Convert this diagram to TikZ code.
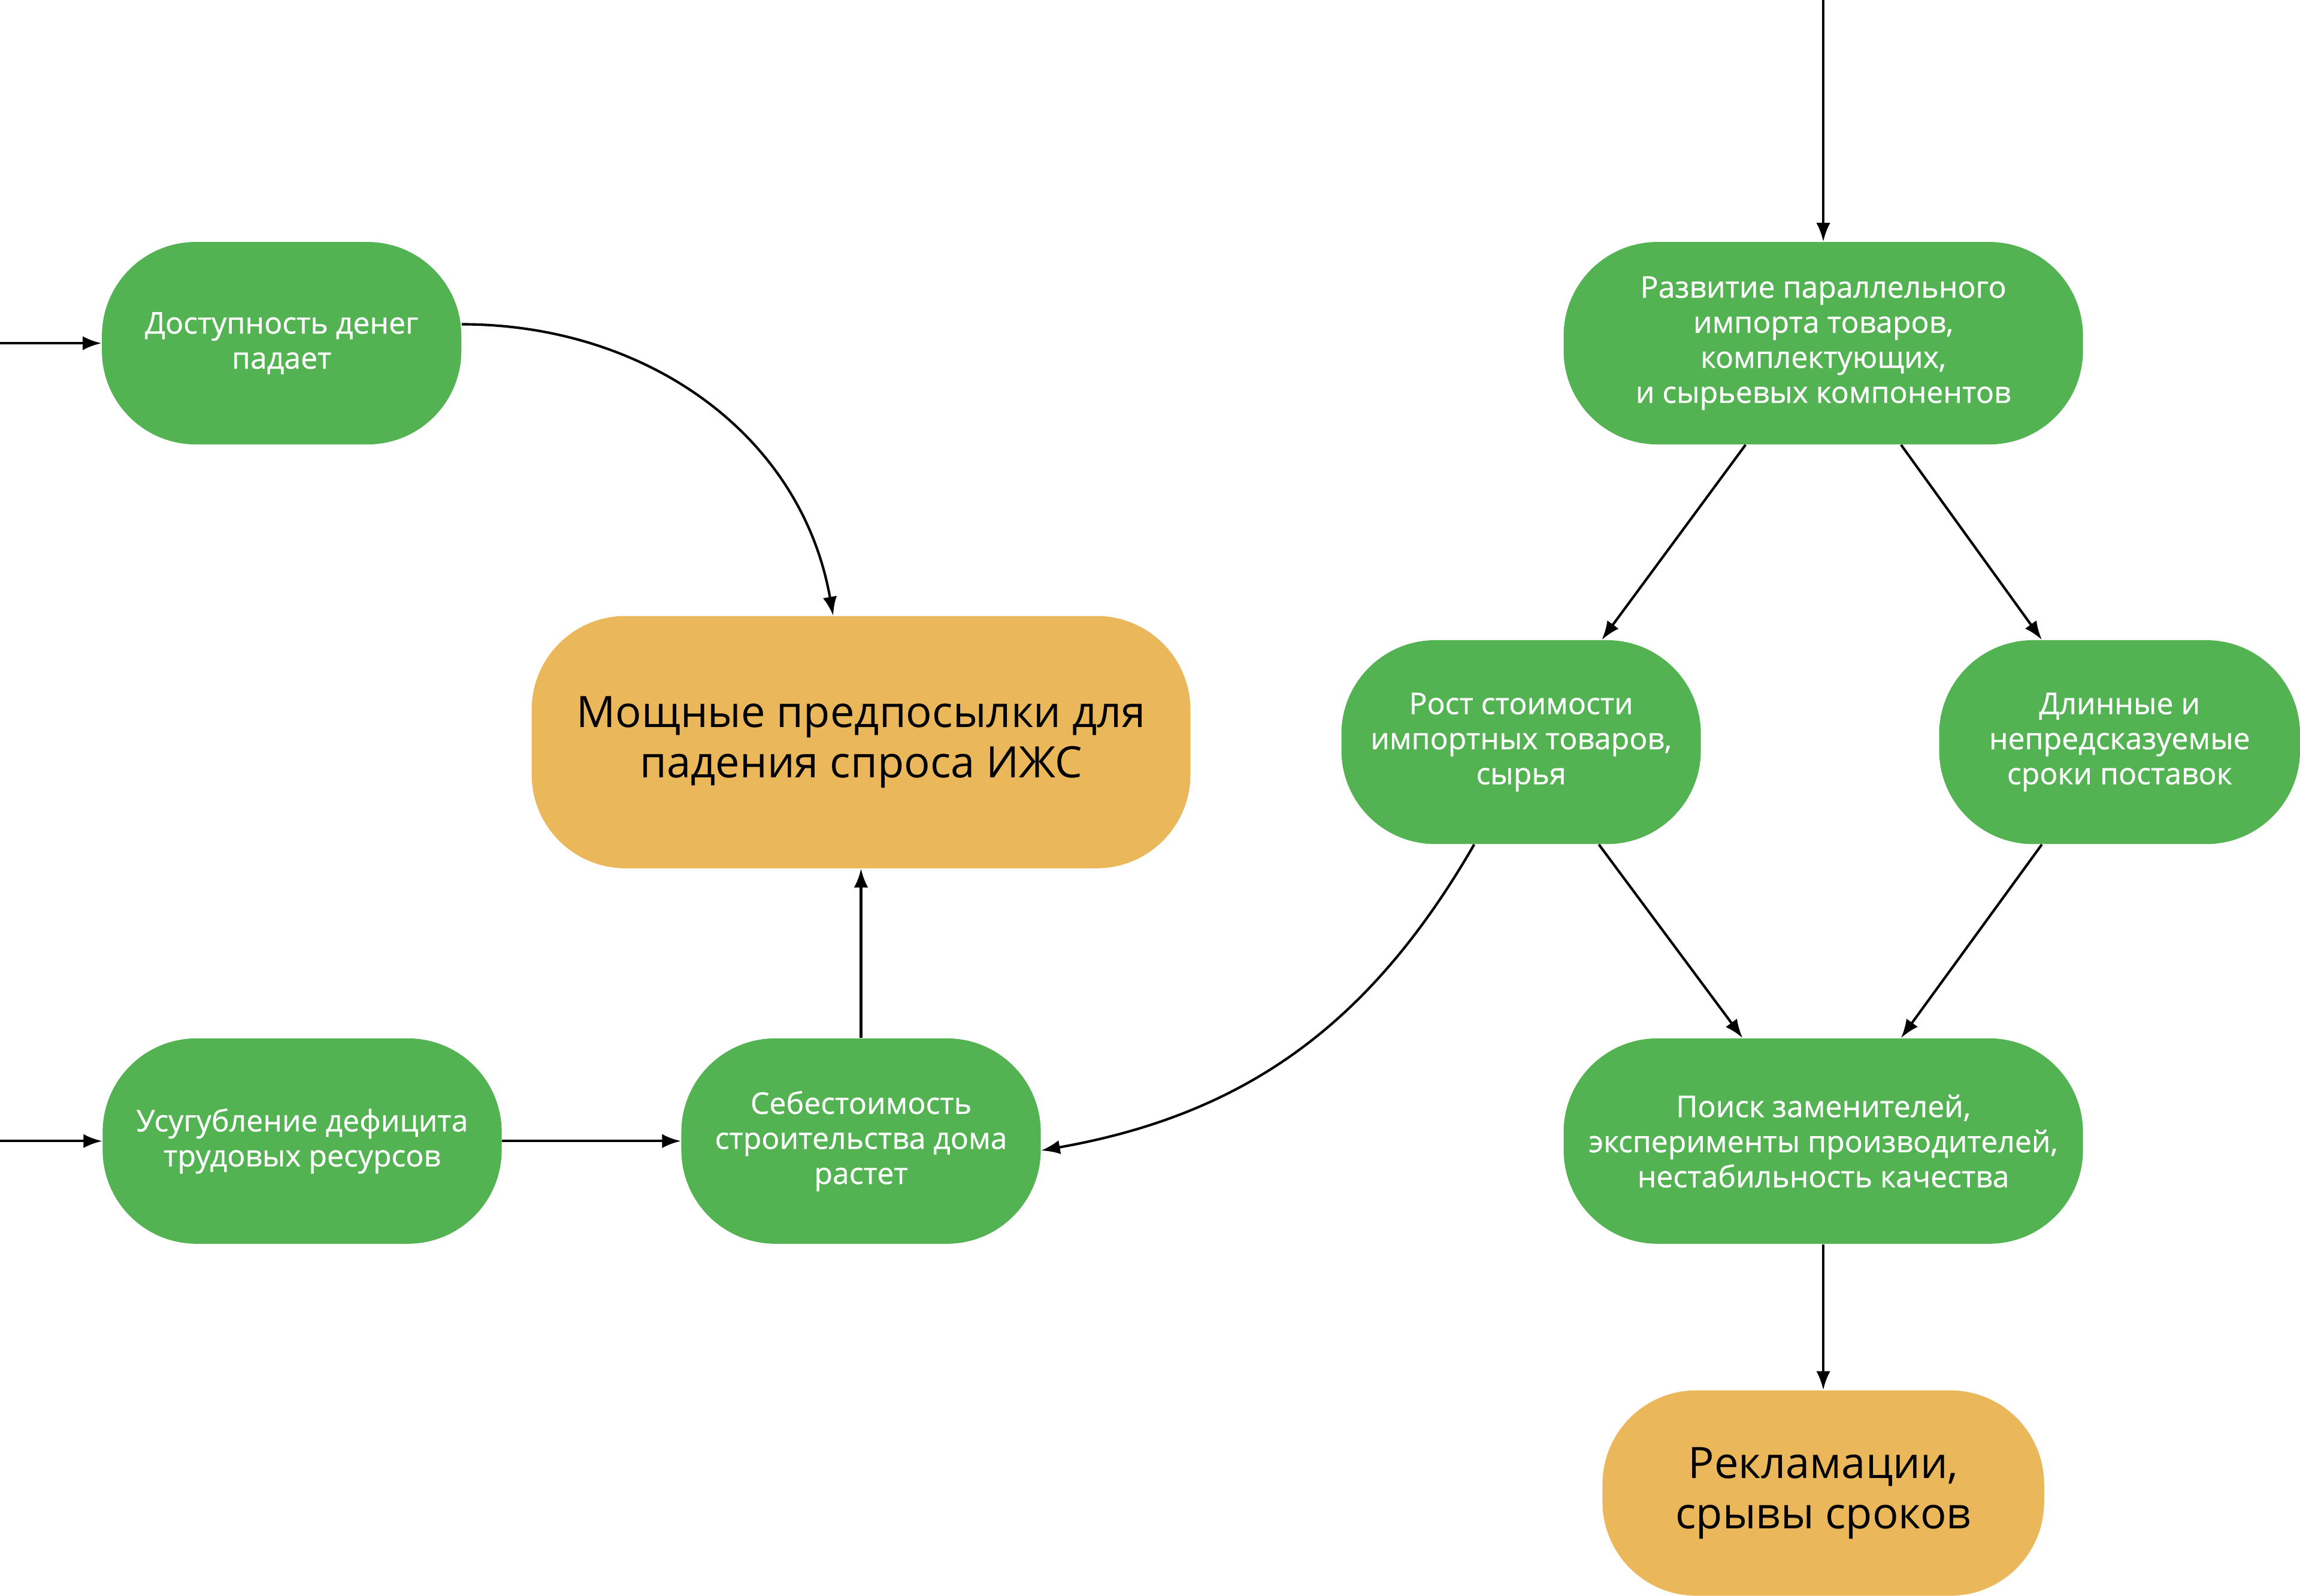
\documentclass[tikz,border=0pt]{standalone}
\usepackage{fontspec}
\setmainfont{Open Sans}
\newfontfamily\vertfont{Open Sans}[RawFeature={embolden=0.6}]
\usepackage{tikz}
\usetikzlibrary{calc}
\usetikzlibrary{arrows.meta}
\definecolor{vert}{RGB}{83,178,82}
\definecolor{jaune}{RGB}{234,184,90}
\tikzset{
  bloc/.style={rounded corners=1.6cm, align=center, inner sep=0pt},
  vertbloc/.style={bloc, fill=vert, text=white, font=\vertfont\fontsize{14.5}{17}\selectfont},
  jaunebloc/.style={bloc, fill=jaune, text=black, font=\fontsize{21}{24.5}\selectfont},
  fleche/.style={-{Latex[length=3.2mm,width=2.4mm]}, line width=1.2pt},
}

\begin{document}
\begin{tikzpicture}[x=0.025cm, y=-0.025cm]
  \useasboundingbox (0, 0) rectangle (1568, 1088);

  \node[vertbloc, minimum width=6.125cm, minimum height=3.45cm] (dost) at (192, 234) {Доступность денег\\падает};
  \node[jaunebloc, minimum width=11.225cm, minimum height=4.3cm] (moshch) at (587, 506) {Мощные предпосылки для\\падения спроса ИЖС};
  \node[vertbloc, minimum width=6.8cm, minimum height=3.5cm] (usug) at (206, 778) {Усугубление дефицита\\трудовых ресурсов};
  \node[vertbloc, minimum width=6.125cm, minimum height=3.5cm] (sebest) at (587, 778) {Себестоимость\\строительства дома\\растет};

  \node[vertbloc, minimum width=8.85cm, minimum height=3.45cm] (razv) at (1243, 234) {Развитие параллельного\\импорта товаров,\\комплектующих,\\и сырьевых компонентов};
  \node[vertbloc, minimum width=6.125cm, minimum height=3.475cm] (rost) at (1037, 506) {Рост стоимости\\импортных товаров,\\сырья};
  \node[vertbloc, minimum width=6.15cm, minimum height=3.475cm] (dlin) at (1445, 506) {Длинные и\\непредсказуемые\\сроки поставок};
  \node[vertbloc, minimum width=8.85cm, minimum height=3.5cm] (poisk) at (1243, 778) {Поиск заменителей,\\эксперименты производителей,\\нестабильность качества};
  \node[jaunebloc, minimum width=7.525cm, minimum height=3.5cm] (rekl) at (1243, 1018) {Рекламации,\\срывы сроков};

  % entrees depuis le bord
  \coordinate (e1) at (0, 234);
  \coordinate (e2) at (0, 778);
  \coordinate (e3) at (1243, 0);
  \draw[fleche] (e1) -- (dost);
  \draw[fleche] (e2) -- (usug);
  \draw[fleche] (e3) -- (razv);

  % partie gauche
  \draw[fleche] (dost.6) to[out=0, in=100] ([xshift=-0.475cm]moshch.north);
  \draw[fleche] (usug) -- (sebest);
  \draw[fleche] (sebest) -- (moshch);

  % losange a droite
  \draw[fleche] ([xshift=-1.325cm]razv.south) -- ([xshift=1.375cm]rost.north);
  \draw[fleche] ([xshift=1.325cm]razv.south) -- ([xshift=-1.325cm]dlin.north);
  \draw[fleche] ([xshift=1.325cm]rost.south) -- ([xshift=-1.375cm]poisk.north);
  \draw[fleche] ([xshift=-1.325cm]dlin.south) -- ([xshift=1.325cm]poisk.north);
  \draw[fleche] (poisk) -- (rekl);

  % retour vers la gauche
  \draw[fleche] ([xshift=-0.8cm]rost.south) to[out=-120, in=10] (sebest.-3);
\end{tikzpicture}
\end{document}
